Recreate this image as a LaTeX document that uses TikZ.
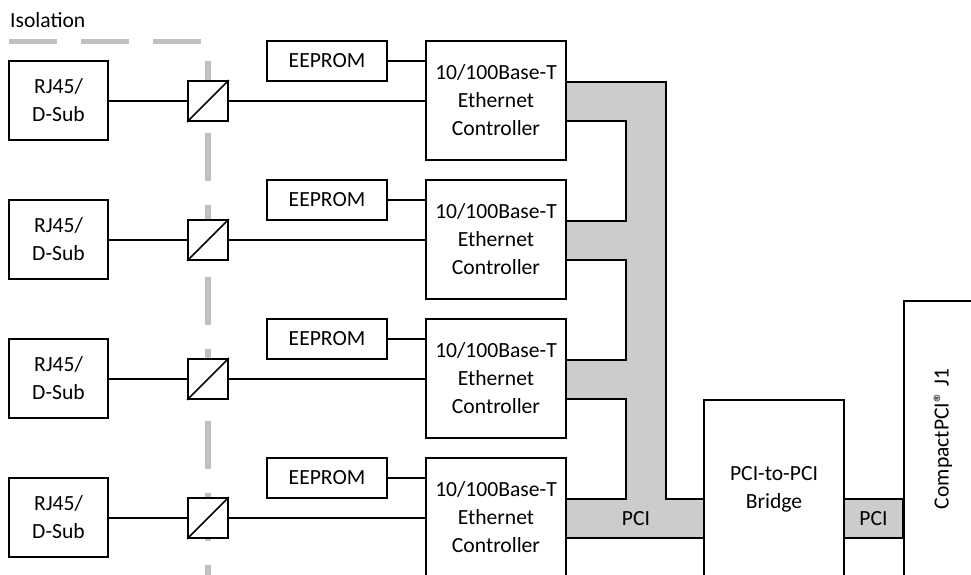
\documentclass[tikz,border=0pt]{standalone}
\usepackage{fontspec}
\setmainfont{Carlito}
\begin{document}
\begin{tikzpicture}[x=1pt,y=-1pt,
  box/.style={draw,line width=1.8pt,fill=white,inner sep=0pt,align=center,font=\fontsize{21.6}{28}\selectfont},
  lbl/.style={inner sep=0pt,align=center,font=\fontsize{21.6}{28}\selectfont},
  wire/.style={line width=1.6pt},
  iso/.style={draw=black!25,line width=5.5pt,dash pattern=on 48pt off 24pt},
  bus/.style={fill=black!20,draw=black,line width=1.8pt}]
\clip (0,0) rectangle (971,575);
% isolation
\node[lbl,anchor=base west] (isol) at (10,28) {Isolation};
\draw[iso] (9,41.5) -- (210,41.5);
\draw[iso] (208,61) -- (208,640);
% PCI bus
\draw[bus] (566,82) -- (666,82) -- (666,499) -- (704,499) -- (704,538) -- (566,538)
  -- (566,499) -- (626,499) -- (626,399) -- (566,399)
  -- (566,360) -- (626,360) -- (626,260) -- (566,260)
  -- (566,221) -- (626,221) -- (626,121) -- (566,121) -- cycle;
\draw[bus] (844,499) rectangle (903,538);
% rows
\foreach \i in {0,1,2,3}{
  \pgfmathsetmacro\yc{100.5+139*\i}
  \pgfmathsetmacro\ye{61+139*\i}
  \node[box,minimum width=99pt,minimum height=79pt] (rj\i) at (58.5,\yc) {RJ45/\\D-Sub};
  \node[box,minimum width=40pt,minimum height=40pt] (tr\i) at (208,\yc+0.5) {};
  \draw[line width=1.6pt] (tr\i.south west) -- (tr\i.north east);
  \node[box,minimum width=120pt,minimum height=40pt] (ee\i) at (327,\ye) {EEPROM};
  \node[box,minimum width=140pt,minimum height=119pt] (ct\i) at (496,\yc) {10/100Base-T\\Ethernet\\Controller};
  \draw[wire] (rj\i.east |- tr\i.west) -- (tr\i.west);
  \draw[wire] (tr\i.east) -- (tr\i.east -| ct\i.west);
  \draw[wire] (ee\i.east) -- (ee\i.east -| ct\i.west);
}
% bridge and connector
\node[box,minimum width=140pt,minimum height=240pt,anchor=north] (br) at (774,399) {};
\node[lbl] (brt) at (774,489) {PCI-to-PCI\\Bridge};
\node[box,minimum width=120pt,minimum height=320pt,anchor=north west] (j1) at (903,300) {};
\node[lbl,rotate=90] (j1t) at (943,439) {CompactPCI® J1};
\node[lbl] (pci1) at (636,518.5) {PCI};
\node[lbl] (pci2) at (873.5,518.5) {PCI};
\end{tikzpicture}
\end{document}
